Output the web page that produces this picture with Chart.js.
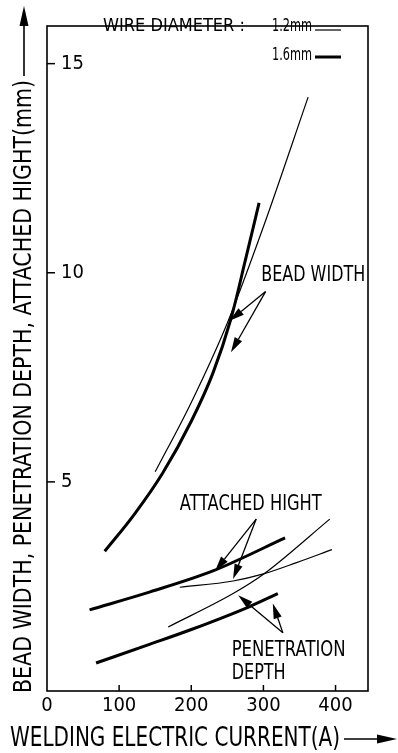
<!DOCTYPE html>
<html>
<head>
<meta charset="utf-8">
<script src="https://cdn.jsdelivr.net/npm/chart.js@4.4.1/dist/chart.umd.min.js"></script>
<style>
  html, body { margin: 0; padding: 0; background: #fff; }
  #wrap { width: 398px; height: 753px; }
</style>
</head>
<body>
<div id="wrap"><canvas id="weld" width="398" height="753"></canvas></div>
<script>
// welding current (A) -> bead width / penetration / attached height (mm)
var xTicks = [0, 100, 200, 300, 400];
var yTicks = [5, 10, 15];

// wire 1.2mm (thin lines)
var beadCur12 = [150, 200, 250, 300, 362];
var bead12    = [5.24, 6.9, 8.8, 11.1, 14.2];
var attCur12  = [184, 258, 300, 346, 395];
var att12     = [2.48, 2.63, 2.8, 3.07, 3.38];
var penCur12  = [168, 258, 300, 392];
var pen12     = [1.53, 2.33, 2.79, 4.11];

// wire 1.6mm (thick lines)
var beadCur16 = [80, 120, 160, 200, 230, 255, 275, 294];
var bead16    = [3.34, 4.2, 5.2, 6.45, 7.6, 8.9, 10.3, 11.67];
var attCur16  = [59, 143, 230, 330];
var att16     = [1.94, 2.37, 2.87, 3.66];
var penCur16  = [68, 143, 200, 281, 320];
var pen16     = [0.67, 1.12, 1.47, 2.02, 2.33];

var FONT = "'Liberation Sans Narrow', 'DejaVu Sans Condensed', 'Liberation Sans', sans-serif";

function pts(xs, ys) {
  return xs.map(function(x, i) { return {x: x, y: ys[i]}; });
}

function curve(label, xs, ys, w) {
  return {
    label: label,
    data: pts(xs, ys),
    borderColor: '#000',
    borderWidth: w,
    pointRadius: 0,
    fill: false,
    tension: 0.4,
    cubicInterpolationMode: 'monotone'
  };
}

// text labels + pointer arrows, placed in data units
var notes = [
  {text: 'BEAD WIDTH',     x: 297, y: 9.93, w: 104},
  {text: 'ATTACHED HIGHT', x: 184, y: 4.45, w: 142},
  {text: 'PENETRATION',    x: 256, y: 0.97, w: 114},
  {text: 'DEPTH',          x: 256, y: 0.41, w: 54}
];
var pointers = [
  {from: [303, 9.55], to: [[253, 8.85], [255, 8.1]]},
  {from: [290, 4.11], to: [[233, 2.87], [258, 2.68]]},
  {from: [327, 1.39], to: [[265, 2.29], [313, 2.09]]}
];

function arrow(ctx, x1, y1, x2, y2, len, half) {
  var a = Math.atan2(y2 - y1, x2 - x1);
  var bx = x2 - len * Math.cos(a), by = y2 - len * Math.sin(a);
  ctx.beginPath();
  ctx.moveTo(x1, y1);
  ctx.lineTo(bx, by);
  ctx.stroke();
  ctx.beginPath();
  ctx.moveTo(x2, y2);
  ctx.lineTo(bx + half * Math.sin(a), by - half * Math.cos(a));
  ctx.lineTo(bx - half * Math.sin(a), by + half * Math.cos(a));
  ctx.closePath();
  ctx.fill();
}

var decor = {
  id: 'decor',
  afterDraw: function(chart) {
    var ctx = chart.ctx;
    var ca = chart.chartArea;
    var sx = chart.scales.x, sy = chart.scales.y;
    ctx.save();
    ctx.strokeStyle = '#000';
    ctx.fillStyle = '#000';

    // frame
    ctx.lineWidth = 1.6;
    ctx.strokeRect(ca.left, ca.top, ca.right - ca.left, ca.bottom - ca.top);

    // inward tick marks
    ctx.lineWidth = 1.5;
    yTicks.forEach(function(v) {
      var py = sy.getPixelForValue(v);
      ctx.beginPath(); ctx.moveTo(ca.left, py); ctx.lineTo(ca.left + 8, py); ctx.stroke();
    });
    xTicks.forEach(function(v) {
      if (v === 0) return;
      var px = sx.getPixelForValue(v);
      ctx.beginPath(); ctx.moveTo(px, ca.bottom); ctx.lineTo(px, ca.bottom - 6); ctx.stroke();
    });

    // annotations
    ctx.font = '21px ' + FONT;
    ctx.textAlign = 'left';
    ctx.textBaseline = 'middle';
    notes.forEach(function(n) {
      ctx.fillText(n.text, sx.getPixelForValue(n.x), sy.getPixelForValue(n.y), n.w);
    });
    ctx.lineWidth = 1.3;
    pointers.forEach(function(p) {
      var fx = sx.getPixelForValue(p.from[0]), fy = sy.getPixelForValue(p.from[1]);
      p.to.forEach(function(t) {
        arrow(ctx, fx, fy, sx.getPixelForValue(t[0]), sy.getPixelForValue(t[1]), 15, 4.2);
      });
    });

    // legend
    ctx.font = '18px ' + FONT;
    ctx.fillText('WIRE DIAMETER :', 103, 26, 152);
    ctx.textAlign = 'right';
    ctx.fillText('1.2mm', 312, 26, 40);
    ctx.fillText('1.6mm', 312, 55, 40);
    ctx.lineWidth = 1.2;
    ctx.beginPath(); ctx.moveTo(315, 30); ctx.lineTo(341, 30); ctx.stroke();
    ctx.lineWidth = 3;
    ctx.beginPath(); ctx.moveTo(315, 57); ctx.lineTo(341, 57); ctx.stroke();

    // axis titles with arrows
    ctx.font = '26px ' + FONT;
    ctx.textAlign = 'left';
    ctx.fillText('WELDING ELECTRIC CURRENT(A)', 10, 739, 330);
    ctx.lineWidth = 1.6;
    arrow(ctx, 344, 739, 397, 739, 20, 4.5);

    ctx.save();
    ctx.translate(24, 693);
    ctx.rotate(-Math.PI / 2);
    ctx.font = '25px ' + FONT;
    ctx.fillText('BEAD WIDTH, PENETRATION DEPTH, ATTACHED HIGHT(mm)', 0, 0, 613);
    ctx.restore();
    arrow(ctx, 24, 76, 24, 6, 20, 4.5);

    ctx.restore();
  }
};

new Chart(document.getElementById('weld'), {
  type: 'line',
  data: {
    datasets: [
      curve('bead 1.2', beadCur12, bead12, 1.2),
      curve('attached 1.2', attCur12, att12, 1.2),
      curve('penetration 1.2', penCur12, pen12, 1.2),
      curve('bead 1.6', beadCur16, bead16, 3),
      curve('attached 1.6', attCur16, att16, 3),
      curve('penetration 1.6', penCur16, pen16, 3)
    ]
  },
  options: {
    responsive: false,
    animation: false,
    layout: { padding: { left: 46, right: 30, top: 10, bottom: 0 } },
    plugins: { legend: { display: false }, tooltip: { enabled: false } },
    scales: {
      x: {
        type: 'linear',
        min: 0,
        max: 445,
        grid: { display: false, drawTicks: false },
        border: { display: false },
        afterBuildTicks: function(s) { s.ticks = xTicks.map(function(v) { return {value: v}; }); },
        afterFit: function(s) { s.height = 62; },
        ticks: { color: '#000', font: { family: FONT, size: 20 }, padding: 3, maxRotation: 0, autoSkip: false }
      },
      y: {
        type: 'linear',
        min: 0,
        max: 15.9,
        grid: { display: false, drawTicks: false },
        border: { display: false },
        afterBuildTicks: function(s) { s.ticks = yTicks.map(function(v) { return {value: v}; }); },
        afterFit: function(s) { s.width = 1; },
        ticks: { color: '#000', font: { family: FONT, size: 20 }, mirror: true, padding: 14 }
      }
    }
  },
  plugins: [decor]
});
</script>
</body>
</html>
